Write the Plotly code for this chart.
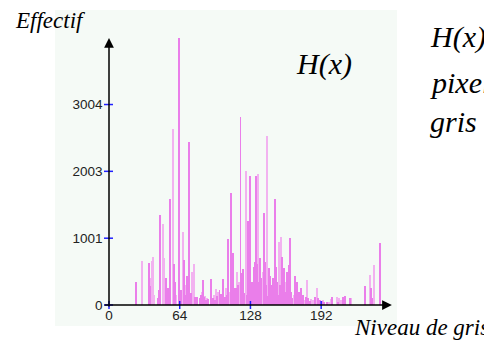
import plotly.graph_objects as go

# ---- data ----
levels_dark = [24, 36, 37, 44, 45, 46, 52, 53, 55, 59, 60, 63, 65, 68, 70, 71, 72, 74, 78, 80,
               82, 83, 85, 86, 88, 90, 92, 94, 96, 98, 100, 101, 103, 105, 107, 108, 110, 111, 112, 113,
               115, 117, 119, 120, 121, 122, 125, 126, 127, 128, 129, 131, 132, 133, 134, 136, 137, 138, 140, 141,
               142, 144, 145, 146, 147, 148, 150, 151, 152, 153, 155, 157, 158, 159, 161, 163, 164, 165, 166, 168,
               170, 172, 174, 176, 178, 180, 182, 186, 189, 191, 193, 195, 197, 202, 207, 212, 214, 218, 232, 237,
               238, 245]
counts_dark = [350, 625, 290, 105, 225, 1349, 409, 260, 1583, 614, 350, 3996, 225, 674, 150, 435, 2448, 180, 120, 125,
               100, 150, 375, 120, 70, 90, 395, 110, 80, 140, 225, 160, 395, 120, 150, 989, 1673, 200, 784, 260,
               250, 300, 2822, 485, 538, 180, 150, 1259, 300, 1933, 350, 574, 650, 1933, 614, 350, 700, 400, 1374, 650,
               300, 140, 560, 440, 300, 400, 1588, 574, 350, 150, 300, 724, 550, 200, 495, 600, 999, 200, 100, 435,
               340, 195, 250, 150, 125, 100, 60, 125, 100, 75, 60, 50, 50, 125, 40, 115, 140, 110, 285, 255,
               100, 924]

levels_light = [30, 38, 39, 40, 41, 49, 50, 58, 61, 67, 69, 75, 77, 79, 84, 87, 89, 93, 95, 97,
                99, 102, 104, 106, 109, 114, 116, 118, 123, 124, 130, 135, 139, 143, 149, 154, 156, 160, 162, 167,
                169, 171, 173, 175, 177, 179, 181, 183, 185, 188, 194, 199, 201, 206, 208, 210, 213, 219, 236, 240]
counts_light = [659, 400, 659, 719, 150, 1209, 700, 2637, 150, 1099, 300, 489, 609, 100, 200, 130, 110, 90, 150, 240,
                200, 140, 100, 260, 200, 200, 489, 350, 160, 2008, 110, 1963, 500, 2532, 300, 939, 1024, 350, 300, 150,
                200, 120, 100, 90, 80, 375, 60, 90, 80, 260, 70, 50, 90, 125, 100, 80, 110, 100, 445, 600]

x_tickvals = [0, 64, 128, 192]
y_tickvals = [0, 1001, 2003, 3004]

# ---- geometry (page pixels; the page body adds an 8px margin) ----
OFF = 8
W, H = 492, 340
BG_L, BG_R, BG_T, BG_B = 55, 397, 10, 326   # plot background in page px
L, R, T, B = BG_L - OFF, W - (BG_R - OFF), BG_T - OFF, H - (BG_B - OFF)
pw, ph = W - L - R, H - T - B
X0PX, XSCALE = 109, 1.105        # page px of level 0, px per level
Y0PX, YSCALE = 305, 66.8 / 1001  # page px of count 0, px per count
xr = [(BG_L - X0PX) / XSCALE, (BG_R - X0PX) / XSCALE]
yr = [-(BG_B - Y0PX) / YSCALE, (Y0PX - BG_T) / YSCALE]


def px(xp):
    return (xp - BG_L) / pw


def py(yp):
    return (BG_B - yp) / ph


fig = go.Figure()
fig.add_trace(go.Bar(x=levels_light, y=counts_light, width=0.9,
                     marker=dict(color="#f2b2f0", line=dict(width=0)), showlegend=False))
fig.add_trace(go.Bar(x=levels_dark, y=counts_dark, width=0.9,
                     marker=dict(color="#ea7eea", line=dict(width=0)), showlegend=False))

tickfont = dict(family="Liberation Sans", size=13.5, color="#222")
fig.update_layout(
    width=W, height=H,
    margin=dict(l=L, r=R, t=T, b=B, pad=0),
    paper_bgcolor="white", plot_bgcolor="#f5faf6",
    barmode="overlay", bargap=0,
    xaxis=dict(range=xr, showgrid=False, zeroline=False, showline=False,
               anchor="free", position=py(Y0PX),
               tickvals=x_tickvals, ticktext=[str(v) for v in x_tickvals],
               ticks="", tickfont=tickfont),
    yaxis=dict(range=yr, showgrid=False, zeroline=False, showline=False,
               anchor="free", position=px(X0PX - 6.5),
               tickvals=y_tickvals, ticktext=[str(v) for v in y_tickvals],
               ticks="", tickfont=tickfont),
)

# blue tick marks crossing the axes
for v in x_tickvals:
    fig.add_shape(type="line", xref="x", yref="y", x0=v, x1=v, y0=-4 / YSCALE, y1=4 / YSCALE,
                  line=dict(color="#2020ff", width=1.5))
for v in y_tickvals:
    fig.add_shape(type="line", xref="x", yref="y", x0=-5 / XSCALE, x1=4 / XSCALE, y0=v, y1=v,
                  line=dict(color="#2020ff", width=1.5))

# axes with arrow heads
fig.add_annotation(x=0, y=4001, ax=0, ay=-45, xref="x", yref="y", axref="x", ayref="y",
                   text="", showarrow=True, arrowhead=2, arrowsize=1.3, arrowwidth=1.5,
                   arrowcolor="black")
fig.add_annotation(x=256, y=0, ax=-5.4, ay=0, xref="x", yref="y", axref="x", ayref="y",
                   text="", showarrow=True, arrowhead=2, arrowsize=1.3, arrowwidth=1.5,
                   arrowcolor="black")

serif = "Times New Roman, Liberation Serif, DejaVu Serif"
texts = [
    ("Effectif", 50, 21, 23, "center"),
    ("H(x)", 324, 64, 30, "center"),
    ("H(x)", 428, 37, 30, "left"),
    ("pixels", 428, 82, 30, "left"),
    ("gris de", 428, 121, 30, "left"),
    ("Niveau de gris", 421, 327, 23, "center"),
]
for t, xp_, yp_, fs, anc in texts:
    fig.add_annotation(x=px(xp_), y=py(yp_), xref="paper", yref="paper", text=t,
                       showarrow=False, xanchor=anc, yanchor="middle",
                       font=dict(family=serif, size=fs, color="black", style="italic"))

fig.write_html("out.html")
